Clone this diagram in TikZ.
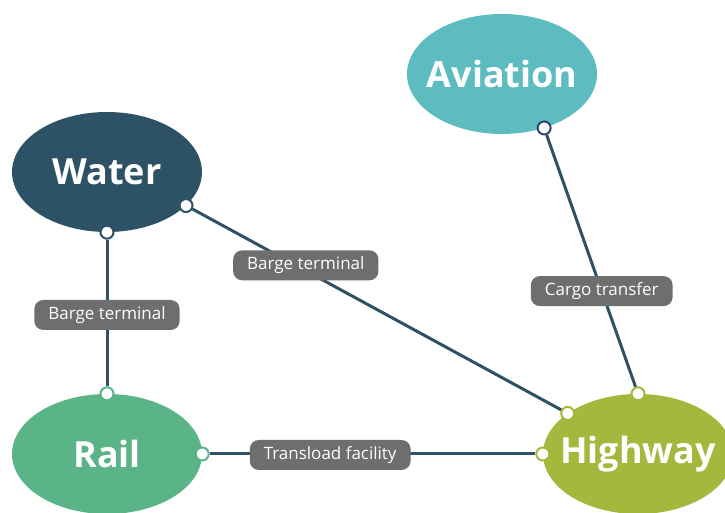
\documentclass[tikz,border=0pt]{standalone}
\usepackage{fontspec}
\setmainfont{Open Sans}
\usetikzlibrary{shapes.geometric}
\definecolor{waterblue}{HTML}{2D5266}
\definecolor{aviationteal}{HTML}{5CBCBF}
\definecolor{railgreen}{HTML}{5AB488}
\definecolor{highwayolive}{HTML}{A3B83C}
\definecolor{linkblue}{HTML}{2F5165}
\definecolor{portnavy}{HTML}{38456F}
\definecolor{taggray}{HTML}{6E6E6E}
\begin{document}
\begin{tikzpicture}[x=1pt, y=1pt,
    mode/.style={ellipse, minimum width=190pt, minimum height=120pt, inner sep=0pt},
    modetext/.style={text=white, font=\fontsize{36}{40}\selectfont\bfseries},
    port/.style={circle, fill=white, draw=#1, line width=2pt, minimum size=13pt, inner sep=0pt},
    link/.style={draw=linkblue, line width=3pt},
    tag/.style={fill=taggray, text=white, rounded corners=9pt, font=\fontsize{17}{19}\selectfont,
      minimum height=30pt, inner xsep=14pt, inner ysep=0pt}]
    \useasboundingbox (0,0) rectangle (725,513);

    % the four modes
    \node[mode, fill=waterblue, label={[modetext]center:Water}] (water) at (107,341) {};
    \node[mode, fill=aviationteal, label={[modetext]center:Aviation}] (aviation) at (502,439) {};
    \node[mode, fill=railgreen, label={[modetext]center:Rail}] (rail) at (107,59) {};
    \node[mode, fill=highwayolive, label={[modetext]center:Highway}] (highway) at (638,59) {};

    % ports on the borders
    \node[port=waterblue] (waterS) at (water.-90) {};
    \node[port=waterblue] (waterE) at (water.-23) {};
    \node[port=portnavy] (aviationS) at (aviation.-52) {};
    \node[port=railgreen] (railN) at (rail.90) {};
    \node[port=railgreen] (railE) at (rail.0) {};
    \node[port=highwayolive] (highwayW) at (highway.180) {};
    \node[port=highwayolive] (highwayNW) at (highway.150) {};
    \node[port=highwayolive] (highwayN) at (highway.90) {};

    % links with their transfer points
    \path[link] (waterS) -- node[tag, yshift=-2pt] {Barge terminal} (railN);
    \path[link] (waterE) -- node[tag, pos=0.28, xshift=10pt] {Barge terminal} (highwayNW);
    \path[link] (aviationS) -- node[tag, pos=0.62] {Cargo transfer} (highwayN);
    \path[link] (railE) -- node[tag, pos=0.37, yshift=-1pt] {Transload facility} (highwayW);
\end{tikzpicture}
\end{document}
